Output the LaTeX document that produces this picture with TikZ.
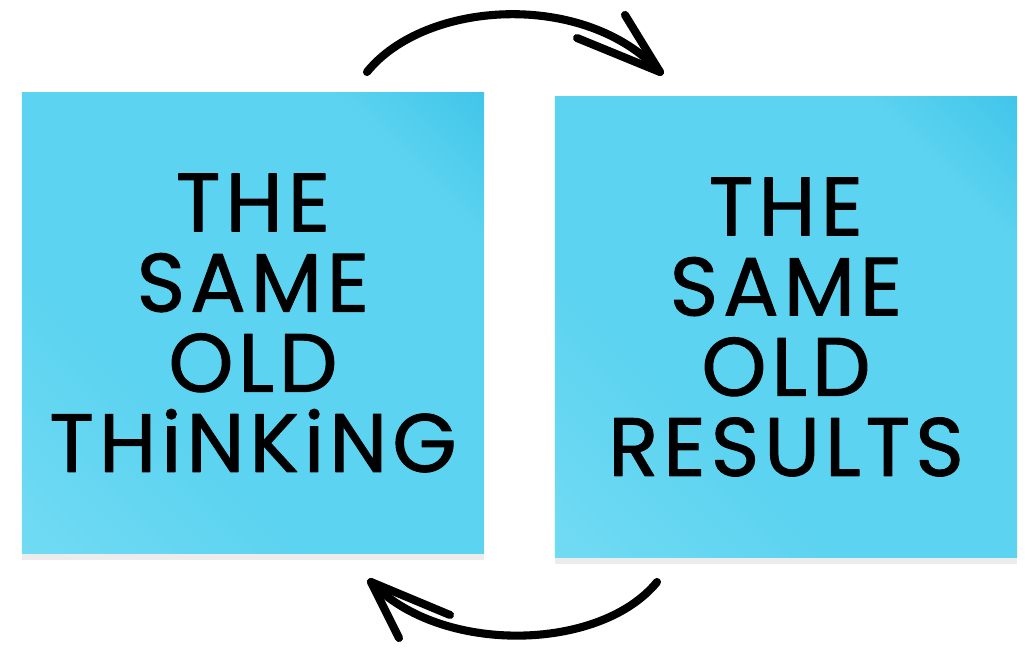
\documentclass[tikz,border=0pt]{standalone}
\usepackage{fontspec}
\setmainfont{Poppins}[FakeBold=1.2,LetterSpace=6]
\usetikzlibrary{shadows}
\definecolor{notecyan}{RGB}{92,211,240}
\definecolor{notedark}{RGB}{30,180,226}
\definecolor{notelight}{RGB}{128,224,246}
\pgfdeclarehorizontalshading{notegrad}{100bp}{color(0bp)=(notelight);
	color(36bp)=(notecyan); color(74bp)=(notecyan); color(100bp)=(notedark)}
\begin{document}
\begin{tikzpicture}[x=0.01cm,y=-0.01cm,line
				join=round,line
				cap=round,font=\fontsize{23.5}{22.8}\selectfont,
				note/.style={shade,shading=notegrad,shading angle=45,
					minimum width=4.62cm,minimum height=4.6cm,
					align=center,inner sep=0pt,
					drop shadow={shadow xshift=0pt,shadow yshift=-2pt,opacity=.15}},
				loopline/.style={line width=2.3pt}]
				\useasboundingbox (0,0) rectangle (1025,649);
				\node[note] (think) at (253,323) {THE\\SAME\\OLD\\THiNKiNG};
				\node[note] (result) at (786,327) {THE\\SAME\\OLD\\RESULTS};
				\path (367,72) coordinate (T0)
				(660,72) coordinate (T1)
				(657,582) coordinate (B0)
				(371,582) coordinate (B1);
				\draw[loopline] (T0) .. controls (425,0) and
				(585,-10) .. (T1);
				\draw[loopline] (T1)--++(-35,-57) (T1)--++(-83,-34);
				\draw[loopline] (B0) .. controls (600,652) and
				(440,655) .. (B1);
				\draw[loopline] (B1)--++(79,33) (B1)--++(28,56);
			\end{tikzpicture}
\end{document}
